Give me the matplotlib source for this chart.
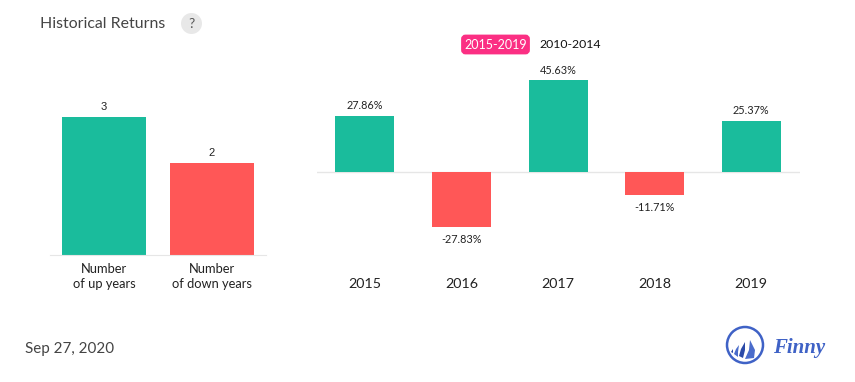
import matplotlib
matplotlib.use('Agg')
import matplotlib.pyplot as plt
from matplotlib.patches import Circle, FancyBboxPatch, Polygon

plt.rcParams['font.family'] = ['Lato', 'DejaVu Sans']

W, H = 855, 382
green = '#1abc9c'
red = '#ff5757'
dark = '#222222'

count_labels = ['Number\nof up years', 'Number\nof down years']
count_values = [3, 2]
count_colors = [green, red]

years = ['2015', '2016', '2017', '2018', '2019']
returns = [27.86, -27.83, 45.63, -11.71, 25.37]
return_labels = ['27.86%', '-27.83%', '45.63%', '-11.71%', '25.37%']


def px_axes(fig, left, right, top, bottom):
    ax = fig.add_axes([left / W, 1 - bottom / H, (right - left) / W, (bottom - top) / H])
    ax.patch.set_alpha(0)
    for s in ax.spines.values():
        s.set_visible(False)
    ax.set_yticks([])
    ax.tick_params(axis='x', length=0)
    return ax


fig = plt.figure(figsize=(W / 100, H / 100), dpi=100)

# left panel
ax1 = px_axes(fig, 50, 266, 100, 255)
ax1.bar(range(2), count_values, width=84 / 108, color=count_colors)
ax1.set_xlim(-0.5, 1.5)
ax1.set_ylim(0, 155 / 46)
ax1.spines['bottom'].set_visible(True)
ax1.spines['bottom'].set_color('#e6e6e6')
ax1.set_xticks(range(2))
ax1.set_xticklabels(count_labels, fontsize=9.3, color=dark, linespacing=1.3)
ax1.tick_params(axis='x', pad=6)
for i, v in enumerate(count_values):
    ax1.annotate(str(v), (i, v), xytext=(0, 3.5), textcoords='offset points',
                 ha='center', va='bottom', fontsize=8, color=dark, family='Liberation Sans')

# right panel
ax2 = px_axes(fig, 316.5, 799.5, 60, 300)
ax2.bar(range(5), returns, width=59 / 96.6,
        color=[green if r > 0 else red for r in returns])
ax2.set_xlim(-0.5, 4.5)
ax2.set_ylim((171.6 - 300) / 2.0, (171.6 - 60) / 2.0)
ax2.axhline(0, color='#e6e6e6', lw=1, zorder=0)
ax2.set_xticks(range(5))
ax2.set_xticklabels(years, fontsize=10.3, color=dark)
ax2.tick_params(axis='x', pad=-16)
for i, (r, lab) in enumerate(zip(returns, return_labels)):
    off = 3.2 if r > 0 else -5.2
    ax2.annotate(lab, (i, r), xytext=(0, off), textcoords='offset points',
                 ha='center', va='bottom' if r > 0 else 'top', fontsize=7.8, color=dark)

# overlay in pixel coords for header, date and logo
ov = fig.add_axes([0, 0, 1, 1], zorder=5)
ov.set_xlim(0, W)
ov.set_ylim(H, 0)
ov.axis('off')
ov.text(40, 23.5, 'Historical Returns', fontsize=11.4, color='#444444', va='center')
ov.add_patch(Circle((191.5, 23.5), 10.5, color='#e8e8e8', lw=0))
ov.text(191.5, 24, '?', fontsize=10, color='#555555', ha='center', va='center')
ov.add_patch(FancyBboxPatch((462.5, 36), 66, 17, boxstyle='round,pad=0,rounding_size=3',
                            mutation_aspect=1, fc='#fb2f83', ec='#fb2f83', lw=2))
ov.text(495.5, 45, '2015-2019', fontsize=9, color='white', ha='center', va='center')
ov.text(570, 45, '2010-2014', fontsize=8.8, color='#111111', ha='center', va='center')
ov.text(25, 348.5, 'Sep 27, 2020', fontsize=10.9, color='#444444', va='center')

# logo
blue = '#3f62c6'
ov.add_patch(Circle((745, 345), 18, fc='none', ec=blue, lw=1.8))
ov.add_patch(Polygon([(750, 340), (755, 350), (754, 358), (745, 359), (749, 350)], color='#4a6ccb', lw=0))
ov.add_patch(Polygon([(745, 342), (745, 350), (743, 358), (739, 356), (741, 349)], color='#2b4aa8', lw=0))
ov.add_patch(Polygon([(739, 345), (738, 352), (738, 357), (734, 354), (736, 349)], color='#4a6ccb', lw=0))
ov.add_patch(Polygon([(733, 349), (733, 353), (731, 352)], color='#2b4aa8', lw=0))
ov.text(773, 348, 'Finny', fontsize=15, color=blue, va='center', family='Liberation Serif',
        style='italic', weight='bold')

fig.savefig('out.png', dpi=100)
